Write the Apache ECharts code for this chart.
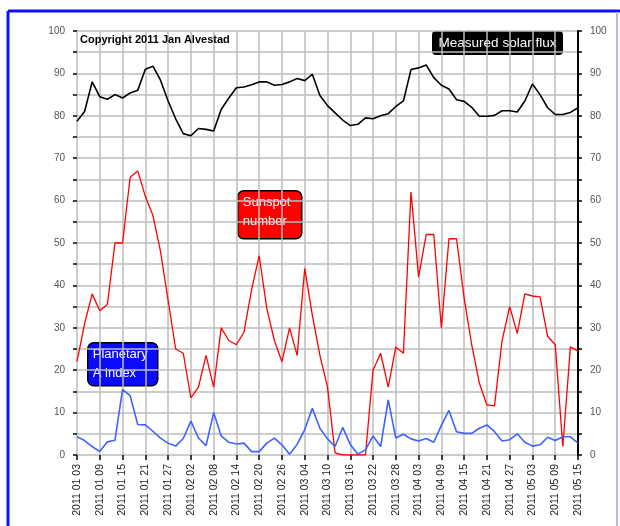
<!DOCTYPE html>
<html>
<head>
<meta charset="utf-8">
<script src="https://cdn.jsdelivr.net/npm/echarts@6/dist/echarts.min.js"></script>
<style>html,body{margin:0;padding:0;background:#fff;}#c{width:620px;height:526px;}</style>
</head>
<body>
<div id="c"></div>
<script>
const categories = [
"2011 01 03","2011 01 05","2011 01 07","2011 01 09","2011 01 11","2011 01 13","2011 01 15","2011 01 17","2011 01 19","2011 01 21","2011 01 23","2011 01 25","2011 01 27","2011 01 29","2011 01 31",
"2011 02 02","2011 02 04","2011 02 06","2011 02 08","2011 02 10","2011 02 12","2011 02 14","2011 02 16","2011 02 18","2011 02 20","2011 02 22","2011 02 24","2011 02 26","2011 02 28",
"2011 03 02","2011 03 04","2011 03 06","2011 03 08","2011 03 10","2011 03 12","2011 03 14","2011 03 16","2011 03 18","2011 03 20","2011 03 22","2011 03 24","2011 03 26","2011 03 28","2011 03 30",
"2011 04 01","2011 04 03","2011 04 05","2011 04 07","2011 04 09","2011 04 11","2011 04 13","2011 04 15","2011 04 17","2011 04 19","2011 04 21","2011 04 23","2011 04 25","2011 04 27","2011 04 29",
"2011 05 01","2011 05 03","2011 05 05","2011 05 07","2011 05 09","2011 05 11","2011 05 13","2011 05 15"];

const solarFlux = [78.7,81,88,84.5,83.9,85,84.2,85.4,86,91,91.7,88.4,83.5,79.3,75.8,75.3,77,76.8,76.4,81.5,84.2,86.6,86.8,87.3,88,88,87.2,87.4,88,88.8,88.3,89.8,84.8,82.4,80.7,79,77.7,78,79.5,79.3,80,80.5,82.2,83.5,90.9,91.3,92,89,87.2,86.3,83.8,83.4,82,79.9,79.9,80.1,81.2,81.2,80.9,83.5,87.5,85,81.9,80.3,80.3,80.8,81.9];

const sunspotNumber = [22,31,38,34,35.5,50,50,65.5,67,61,56.5,48,36.5,25,24,13.5,16,23.5,16,30,27,26,29,39,47,34.6,27,22,30,23.5,44,33,23.5,16,0.5,0,0,0,0,20,24,16,25.5,24,62,42,52,52,30,51,51,37,26,17,11.8,11.6,27,35,28.7,38,37.5,37.3,28,26,2,25.5,24.5];

const planetaryA = [4.3,3.4,2,0.8,3.1,3.5,15.4,14,7.2,7.1,5.6,4,2.8,2.1,3.9,8,4,2.2,10,4.5,3,2.6,2.8,0.8,0.8,2.8,4,2.4,0.2,2.5,6,11,6.3,3.8,2,6.5,2.5,0.2,1.2,4.5,2,13,4,4.9,3.8,3.3,3.9,3,7,10.5,5.5,5.1,5.1,6.3,7.1,5.5,3.3,3.6,5,3,2.1,2.4,4.2,3.4,4.3,4.3,2.8];

const yTicks = [0,10,20,30,40,50,60,70,80,90,100];

const chart = echarts.init(document.getElementById('c'));
const lblFmt = v => (yTicks.indexOf(v) >= 0 ? String(v) : '');
const yBase = {
  type: 'value', min: 0, max: 100, interval: 5,
  axisLabel: { formatter: lblFmt, fontSize: 10, color: '#555', fontFamily: 'Liberation Sans, Arial', margin: 12 },
  axisTick: { show: true, length: 4, lineStyle: { color: '#000', width: 1.5 } }
};
chart.setOption({
  animation: false,
  backgroundColor: '#fff',
  grid: { left: 77, right: 42, top: 31, bottom: 71 },
  xAxis: {
    type: 'category', data: categories, boundaryGap: false,
    axisLine: { show: false },
    axisTick: { show: true, interval: 2, length: 5, lineStyle: { color: '#000', width: 1.5 } },
    axisLabel: { interval: 2, rotate: 90, fontSize: 10.5, color: '#222', fontFamily: 'Liberation Sans, Arial', margin: 9 },
    splitLine: { show: true, interval: 2, lineStyle: { color: '#bdbdbd', width: 1.5 } }
  },
  yAxis: [
    Object.assign({}, yBase, {
      position: 'left',
      axisLine: { show: false },
      splitLine: { show: true, lineStyle: { color: '#bdbdbd', width: 1.5 } }
    }),
    Object.assign({}, yBase, {
      position: 'right',
      axisLine: { show: true, lineStyle: { color: '#000', width: 2 } },
      splitLine: { show: false }
    })
  ],
  series: [
    { name: 'Measured solar flux', type: 'line', data: solarFlux, showSymbol: false, lineStyle: { color: '#000', width: 1.6 }, z: 3 },
    { name: 'Sunspot number', type: 'line', data: sunspotNumber, showSymbol: false, lineStyle: { color: '#ff0000', width: 1.3 }, z: 4 },
    { name: 'Planetary A index', type: 'line', data: planetaryA, showSymbol: false, lineStyle: { color: '#3d63ff', width: 1.6 }, z: 5 }
  ],
  graphic: [
    { type: 'line', shape: { x1: 8, y1: 11, x2: 620, y2: 11 }, style: { stroke: '#1010ff', lineWidth: 3 }, z: 10 },
    { type: 'line', shape: { x1: 8, y1: 11, x2: 8, y2: 526 }, style: { stroke: '#1010ff', lineWidth: 3 }, z: 10 },
    { type: 'line', shape: { x1: 617, y1: 12, x2: 617, y2: 526 }, style: { stroke: '#b4b8f4', lineWidth: 2 }, z: 10 },
    { type: 'text', left: 80, top: 34, style: { text: 'Copyright 2011 Jan Alvestad', font: 'bold 11px Liberation Sans, Arial', fill: '#000' }, z: 10 },
    { type: 'group', left: 432, top: 31, z: 10, children: [
      { type: 'rect', shape: { x: 0, y: 0, width: 131, height: 24, r: 4 }, style: { fill: '#000' } },
      { type: 'text', x: 65.5, y: 12, style: { text: 'Measured solar flux', font: '13.5px Liberation Sans, Arial', fill: '#fff', align: 'center', verticalAlign: 'middle' } }
    ]},
    { type: 'group', left: 237, top: 190, z: 10, children: [
      { type: 'rect', shape: { x: 0, y: 0, width: 64, height: 48, r: 6 }, style: { fill: '#ff0000', stroke: '#000', lineWidth: 1.5 } },
      { type: 'text', x: 5, y: 2, style: { text: 'Sunspot\nnumber', font: '13px Liberation Sans, Arial', fill: '#fff', lineHeight: 19 } }
    ]},
    { type: 'group', left: 87, top: 342, z: 10, children: [
      { type: 'rect', shape: { x: 0, y: 0, width: 70, height: 43, r: 6 }, style: { fill: '#0a0aff', stroke: '#000', lineWidth: 1.5 } },
      { type: 'text', x: 5, y: 2, style: { text: 'Planetary\nA index', font: '13px Liberation Sans, Arial', fill: '#fff', lineHeight: 19 } }
    ]}
  ]
});
</script>
</body>
</html>
